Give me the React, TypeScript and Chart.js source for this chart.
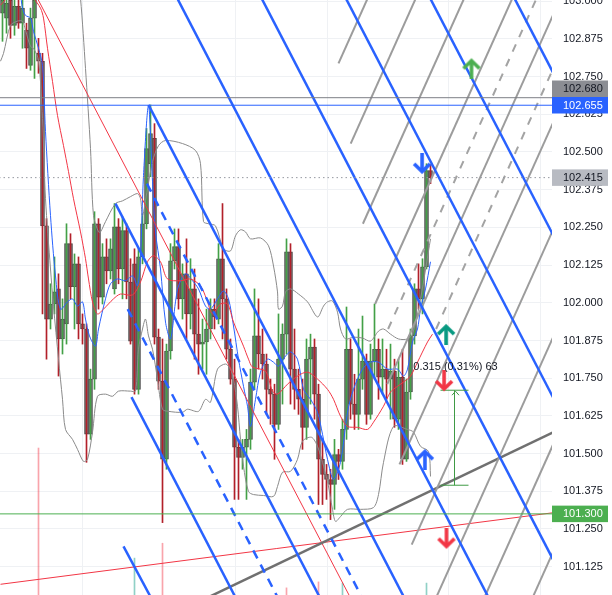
import React, { useEffect, useRef } from "react";
import { Chart, registerables } from "chart.js";

Chart.register(...registerables);

// ---------------- data ----------------
const openP = [
  102.960, 102.944, 103.003, 102.920, 102.983, 102.927, 102.904, 102.787, 102.944, 102.827,
  102.801, 102.255, 101.946, 101.996, 102.046, 101.880, 101.930, 102.196, 102.053, 102.129,
  101.930, 101.913, 101.564, 101.747, 102.262, 102.019, 102.152, 102.106, 102.046, 102.252,
  102.112, 102.239, 102.069, 102.129, 101.713, 102.152, 102.262, 102.461, 102.545, 101.886,
  101.740, 101.481, 101.840, 102.139, 102.186, 102.013, 102.096, 101.963, 102.046, 101.896,
  101.863, 101.870, 101.913, 101.979, 101.946, 102.146, 102.013, 101.846, 101.747, 101.521,
  101.487, 101.521, 101.547, 101.737, 101.890, 101.830, 101.797, 101.713, 101.697, 101.597,
  101.813, 101.896, 102.169, 101.780, 101.713, 101.680, 101.587, 101.813, 101.853, 101.697,
  101.481, 101.431, 101.414, 101.398, 101.497, 101.474, 101.580, 101.846, 101.664, 101.630,
  101.747, 101.807, 101.630, 101.807, 101.846, 101.753, 101.780, 101.747, 101.773, 101.614,
  101.753, 101.481, 101.704, 101.890, 102.046, 102.013, 102.119, 102.438,
];
const closeP = [
  103.003, 102.993, 102.920, 102.983, 102.927, 102.977, 102.844, 102.944, 103.003, 102.801,
  102.255, 101.946, 101.996, 102.036, 101.880, 101.946, 102.196, 102.053, 102.129, 101.930,
  101.913, 101.564, 101.747, 102.262, 102.019, 102.152, 102.106, 102.179, 102.252, 102.112,
  102.239, 102.069, 101.873, 101.713, 102.152, 102.262, 102.511, 102.561, 101.886, 101.740,
  101.481, 101.840, 102.139, 102.186, 102.013, 102.096, 101.963, 102.046, 101.896, 101.863,
  101.870, 101.913, 101.979, 101.953, 102.146, 102.013, 101.846, 101.747, 101.521, 101.487,
  101.521, 101.547, 101.737, 101.890, 101.830, 101.797, 101.713, 101.697, 101.597, 101.813,
  101.896, 102.169, 101.780, 101.713, 101.680, 101.587, 101.813, 101.853, 101.697, 101.481,
  101.431, 101.414, 101.398, 101.497, 101.474, 101.580, 101.846, 101.664, 101.630, 101.747,
  101.807, 101.630, 101.807, 101.846, 101.753, 101.780, 101.747, 101.773, 101.614, 101.753,
  101.481, 101.704, 101.890, 102.046, 102.013, 102.119, 102.438, 102.415,
];
const highP = [
  103.037, 103.027, 103.037, 103.010, 103.027, 103.010, 102.927, 102.977, 103.043, 102.877,
  102.827, 102.279, 102.063, 102.152, 102.096, 102.013, 102.262, 102.229, 102.162, 102.152,
  101.963, 101.930, 101.780, 102.302, 102.279, 102.196, 102.212, 102.212, 102.329, 102.279,
  102.285, 102.262, 102.146, 102.179, 102.179, 102.295, 102.578, 102.656, 102.594, 101.913,
  101.880, 101.863, 102.196, 102.245, 102.245, 102.129, 102.212, 102.146, 102.112, 102.013,
  101.946, 101.979, 102.013, 102.013, 102.196, 102.329, 102.046, 101.880, 101.813, 101.547,
  101.547, 101.580, 101.780, 102.046, 102.013, 101.913, 101.830, 101.747, 101.730, 101.963,
  101.930, 102.212, 102.196, 101.913, 101.780, 101.747, 101.880, 101.896, 101.880, 101.730,
  101.547, 101.464, 101.448, 101.547, 101.514, 101.614, 101.986, 101.880, 101.763, 101.913,
  101.956, 101.830, 101.863, 101.996, 101.880, 101.880, 101.846, 101.863, 101.813, 101.813,
  101.846, 101.747, 101.913, 102.063, 102.129, 102.146, 102.461, 102.458,
];
const lowP = [
  102.867, 102.894, 102.877, 102.887, 102.910, 102.844, 102.777, 102.771, 102.744, 102.761,
  101.963, 101.813, 101.913, 101.963, 101.757, 101.830, 101.863, 102.013, 101.913, 101.880,
  101.863, 101.471, 101.547, 101.713, 101.979, 101.996, 102.063, 102.079, 102.029, 102.063,
  102.013, 102.013, 101.863, 101.697, 101.697, 102.129, 102.245, 102.418, 101.863, 101.713,
  101.271, 101.448, 101.813, 102.112, 101.979, 101.946, 101.880, 101.913, 101.813, 101.763,
  101.780, 101.763, 101.880, 101.913, 101.930, 101.880, 101.813, 101.730, 101.348, 101.348,
  101.448, 101.348, 101.514, 101.713, 101.780, 101.747, 101.630, 101.597, 101.481, 101.580,
  101.664, 101.830, 101.664, 101.647, 101.630, 101.514, 101.547, 101.664, 101.614, 101.331,
  101.331, 101.348, 101.281, 101.315, 101.414, 101.448, 101.547, 101.614, 101.580, 101.580,
  101.713, 101.597, 101.614, 101.747, 101.680, 101.697, 101.680, 101.614, 101.587, 101.580,
  101.464, 101.474, 101.680, 101.863, 101.979, 101.963, 102.112, 102.395,
];

// indicator curves as [bar index, price]
const bbUpper = [
  [18.5, 103.11], [19.5, 103.01], [20.75, 102.777], [22, 102.511], [22.75, 102.289], [24, 102.235],
  [24.5, 102.235], [25.75, 102.269], [28.25, 102.329], [30, 102.338], [32, 102.352], [33.75, 102.362],
  [34.5, 102.345], [35, 102.289], [36.25, 102.378], [37.5, 102.468], [39, 102.521], [40.75, 102.538],
  [45, 102.528], [48.25, 102.505], [49.5, 102.461], [50.25, 102.269], [51.5, 102.262], [53.25, 102.255],
  [55.25, 102.179], [57, 102.172], [58.25, 102.222], [59.5, 102.242], [60.75, 102.235], [62, 102.212],
  [64.5, 102.215], [66.5, 102.189], [67.75, 102.122], [68.75, 102.036], [69, 101.979], [70, 101.989],
  [70.75, 102.036], [72, 102.046], [74, 102.029], [76.25, 102.003], [78.75, 101.953], [80.25, 101.989],
  [81.25, 102.003], [82.5, 102.006], [83.75, 101.969], [84.5, 101.913], [85.75, 101.88], [87.75, 101.886],
  [90, 101.883], [92, 101.873], [94, 101.906], [95.25, 101.913], [97, 101.896], [99, 101.88],
  [101.25, 101.88], [102.5, 101.896], [104.5, 102.013], [107, 102.212],
];
const bbLower = [
  [-0.5, 102.801], [0.25, 102.827], [2, 102.92], [3.75, 102.934], [5, 102.934], [5.75, 102.904],
  [7, 102.85], [7.75, 102.844], [9, 102.804], [10, 102.611], [10.75, 102.345], [12, 102.112],
  [12.75, 101.989], [14, 101.813], [15, 101.68], [15.75, 101.58], [17.5, 101.547], [18.75, 101.514],
  [20.25, 101.474], [21.25, 101.481], [22.5, 101.571], [23.75, 101.69], [25.75, 101.697], [27.5, 101.69],
  [29, 101.707], [32, 101.707], [33.25, 101.707], [34, 101.846], [35, 101.913], [35.75, 101.946],
  [36.5, 101.89], [37.5, 101.846], [38.75, 101.747], [40, 101.647], [41.5, 101.64], [45, 101.637],
  [46.25, 101.647], [49, 101.64], [50.75, 101.68], [52, 101.67], [53.75, 101.78], [55.75, 101.797],
  [57, 101.78], [57.75, 101.747], [58.75, 101.657], [59.5, 101.547], [60.25, 101.458], [61.5, 101.374],
  [62.75, 101.364], [65.25, 101.361], [67.75, 101.358], [68.75, 101.391], [70, 101.438], [72, 101.441],
  [73.75, 101.481], [75, 101.541], [77.25, 101.554], [78.75, 101.524], [80, 101.471], [81.25, 101.408],
  [82.5, 101.315], [83.25, 101.275], [84.5, 101.291], [86.25, 101.315], [89.5, 101.315], [92.75, 101.321],
  [94, 101.364], [95.25, 101.471], [97.75, 101.59], [101.25, 101.58], [102.75, 101.571], [104.5, 101.524],
  [106.5, 101.507], [107, 101.424],
];
const maFast = [
  [4.5, 103.027], [5, 102.977], [5.75, 102.953], [7, 102.944], [7.75, 102.9], [9, 102.844], [10, 102.787],
  [10.75, 102.568], [12, 102.289], [13.25, 102.089], [14.5, 101.979], [16.25, 102.003], [17.5, 102.013],
  [18.75, 101.989], [20, 102.003], [20.75, 101.946], [21.75, 101.89], [23.25, 101.856], [24, 101.913],
  [25.75, 102.013], [27, 102.063], [28.75, 102.079], [30.75, 102.073], [32.5, 102.089], [33.75, 102.056],
  [34.5, 102.156], [35.25, 102.422], [36.5, 102.654], [37.5, 102.402], [38.25, 102.235], [39.5, 102.112],
  [40.75, 101.936], [42, 101.88], [43.25, 102.003], [44, 102.056], [45.75, 102.096], [47.5, 102.073],
  [49, 102.046], [50.75, 101.989], [52, 101.979], [53.75, 102.013], [55.25, 102.039], [56.5, 102.013],
  [57.75, 101.923], [59, 101.813], [60.25, 101.723], [61.25, 101.657], [62, 101.59], [63.25, 101.68],
  [64.5, 101.77], [66.25, 101.813], [67.75, 101.803], [69, 101.79], [70.75, 101.823], [72, 101.837],
  [73.75, 101.813], [75.25, 101.713], [77, 101.68], [78.75, 101.637], [80, 101.564], [81.25, 101.481],
  [82.75, 101.414], [84.5, 101.471], [86.25, 101.637], [87.75, 101.713], [90, 101.78], [92, 101.803],
  [94, 101.803], [96.25, 101.78], [98.75, 101.78], [100.25, 101.757], [101.25, 101.78], [102.5, 101.87],
  [103.75, 101.913], [104.5, 101.979], [105.75, 102.046], [107, 102.136],
];
const maSlow = [
  [-0.5, 102.987], [2, 103.02], [5.75, 103.037], [7.75, 103.01], [9.5, 102.977], [10.25, 102.944],
  [11.25, 102.844], [12.5, 102.734], [13.75, 102.621], [15.25, 102.521], [16.5, 102.435], [17.75, 102.345],
  [19.5, 102.235], [20.75, 102.146], [21.5, 102.079], [22.5, 102.003], [23.75, 101.963], [25.25, 101.979],
  [27.75, 102.013], [29.5, 102.029], [32.5, 102.026], [34.5, 102.069], [36.25, 102.136], [37.75, 102.156],
  [39.5, 102.136], [41.25, 102.079], [44.5, 102.073], [47, 102.079], [49.5, 102.056], [51, 102.013],
  [52.5, 101.963], [54.5, 101.996], [56.25, 101.996], [57.75, 101.936], [60.25, 101.856], [61.5, 101.813],
  [62.5, 101.787], [65.75, 101.773], [67.5, 101.707], [68.75, 101.697], [71.25, 101.73], [73.75, 101.757],
  [76.25, 101.77], [78.75, 101.747], [81.25, 101.713], [82.75, 101.68], [84.5, 101.624], [86.25, 101.59],
  [88.75, 101.587], [91.25, 101.58], [92.75, 101.604], [95.25, 101.657], [97, 101.704], [98.75, 101.723],
  [100.25, 101.737], [102, 101.757], [103.75, 101.803], [106.25, 101.87], [107.5, 101.896],
];

// volume (only the visible bars)
const volX = [9, 33, 40, 71, 79, 85, 106];
const volV = [24.7, 6.2, 8.7, 1.2, 2.2, 2.0, 2.0];
const volUp = [false, true, false, false, false, true, true];

// axis
const yTicks = [101.125, 101.25, 101.375, 101.5, 101.625, 101.75, 101.875, 102, 102.125, 102.25, 102.375, 102.5, 102.625, 102.75, 102.875, 103];
const gridX = [19.875, 58.125, 81.125, 111.375, 134.375];

// horizontal price levels
const levelPrices = [102.68, 102.655, 102.415, 101.3];

// drawings: [startIndex, startPrice, endIndex, endPrice]
const channelLines = [
  [30.25, 101.192, 40.08, 100.949],
  [32.25, 101.687, 61.15, 100.949],
  [28.25, 102.329, 82.23, 100.949],
  [36.5, 102.656, 103.3, 100.949],
  [41.05, 103.077, 124.4, 100.949],
  [62.13, 103.077, 145.45, 100.949],
  [83.2, 103.077, 166.5, 100.949],
  [104.28, 103.077, 187.6, 100.949],
  [125.35, 103.077, 208.7, 100.949],
];
const channelMedians = [
  [31.3, 101.979, 71.7, 100.949],
  [36.1, 102.395, 92.76, 100.949],
];
const fanLines = [
  [84.0, 102.794, 93.57, 103.077],
  [87.05, 102.528, 105.6, 103.077],
  [90.1, 102.262, 117.7, 103.077],
  [93.15, 101.996, 129.75, 103.077],
  [96.2, 101.73, 141.8, 103.077],
  [99.25, 101.464, 153.9, 103.077],
  [102.3, 101.198, 165.9, 103.077],
  [105.35, 100.932, 177.98, 103.077],
  [108.4, 100.666, 190.05, 103.077],
  [111.45, 100.4, 202.1, 103.077],
];
const fanMedians = [
  [96.4, 101.913, 135.8, 103.077],
  [108.4, 101.913, 147.85, 103.077],
];
const trendGray = [39.7, 100.949, 139.5, 101.582];
const trendRedLow = [-0.5, 101.0665, 139.5, 101.307];
const trendRedDiag = [6.08, 103.077, 89.85, 100.949];

// price range measurement
const measureStart = 109.5;
const measureEnd = 116.5;
const measureFrom = 101.395;
const measureTo = 101.71;
const measureBars = 63;

// arrow marks
const arrowX = [117.25, 104.9, 110.9, 110.4, 105.6, 111.0];
const arrowP = [102.777, 102.461, 101.896, 101.74, 101.481, 101.218];
const arrowUp = [true, false, true, false, true, false];

// ---------------- styles ----------------
const BLUE = "#2962ff";
const RED = "#f23645";
const arrowColors = ["#4caf50", BLUE, "#089981", RED, BLUE, RED];
const levelStyles = [
  { line: "#7d7f86", dash: [], box: "#8b8d93", text: "#131722" },
  { line: BLUE, dash: [], box: BLUE, text: "#ffffff" },
  { line: "#9598a1", dash: [1.5, 3], box: "#b8bbc2", text: "#131722" },
  { line: "#4caf50", dash: [], box: "#4caf50", text: "#ffffff" },
];
const FONT = '"Liberation Sans", Arial, sans-serif';

function makeArrow(color: string, up: boolean) {
  const W = 20;
  const H = 22;
  const c = document.createElement("canvas");
  c.width = W;
  c.height = H;
  const g = c.getContext("2d") as CanvasRenderingContext2D;
  if (!up) {
    g.translate(0, H);
    g.scale(1, -1);
  }
  g.strokeStyle = color;
  g.lineWidth = 3.6;
  g.lineJoin = "miter";
  g.beginPath();
  g.moveTo(10, 4);
  g.lineTo(10, 22);
  g.stroke();
  g.beginPath();
  g.moveTo(2, 11);
  g.lineTo(10, 3.2);
  g.lineTo(18, 11);
  g.stroke();
  return c;
}

export default function App() {
  const ref = useRef<HTMLCanvasElement>(null);

  useEffect(() => {
    const canvas = ref.current as HTMLCanvasElement;
    const seg = (s: number[]) => [
      { x: s[0], y: s[1] },
      { x: s[2], y: s[3] },
    ];
    const line = (data: any[], color: string, width: number, dash: number[], order: number, tension = 0) => ({
      type: "line",
      data,
      borderColor: color,
      borderWidth: width,
      borderDash: dash,
      pointRadius: 0,
      fill: false,
      tension,
      order,
    });
    const ds: any[] = [];

    ds.push({
      type: "bar",
      yAxisID: "yv",
      data: volX.map((x, k) => ({ x, y: volV[k] })),
      backgroundColor: volUp.map((u) => (u ? "rgba(8,153,129,0.45)" : "rgba(242,54,69,0.45)")),
      barThickness: 1,
      grouped: false,
      order: 12,
    });
    ds.push({
      type: "bar",
      data: openP.map((o, i) => ({ x: i, y: [Math.min(o, closeP[i]), Math.max(o, closeP[i])] })),
      backgroundColor: "#707070",
      borderColor: "#474747",
      borderWidth: 1,
      borderSkipped: false,
      barThickness: 4,
      grouped: false,
      order: 11,
    });
    ds.push({
      type: "bar",
      data: openP.map((o, i) => ({ x: i, y: [lowP[i], highP[i]] })),
      backgroundColor: openP.map((o, i) => (closeP[i] >= o ? "#43a047" : "#b2202a")),
      barThickness: 1,
      grouped: false,
      order: 10,
    });

    const knots = (k: number[][]) => k.map((p) => ({ x: p[0], y: p[1] }));
    ds.push(line(knots(bbUpper), "#8a8a8a", 1, [], 9, 0.3));
    ds.push(line(knots(bbLower), "#8a8a8a", 1, [], 9, 0.3));
    ds.push(line(knots(maSlow), RED, 1, [], 8, 0.3));
    ds.push(line(knots(maFast), BLUE, 1, [], 8, 0.3));

    ds.push(line(seg(trendRedLow), RED, 1, [], 6));
    ds.push(line(seg(trendRedDiag), RED, 1, [], 6));
    fanLines.forEach((s) => ds.push(line(seg(s), "#9c9c9c", 2, [], 5)));
    fanMedians.forEach((s) => ds.push(line(seg(s), "#a3a3a3", 2, [8, 8], 5)));
    ds.push(line(seg(trendGray), "#707070", 2.5, [], 5));
    channelLines.forEach((s) => ds.push(line(seg(s), BLUE, 2.5, [], 4)));
    channelMedians.forEach((s) => ds.push(line(seg(s), BLUE, 2.5, [9, 7], 4)));

    levelPrices.forEach((p, k) =>
      ds.push(line([{ x: -2, y: p }, { x: 140, y: p }], levelStyles[k].line, 1, levelStyles[k].dash, 3))
    );

    const mMid = (measureStart + measureEnd) / 2;
    const MG = "#3f9a45";
    ds.push(line([{ x: measureStart, y: measureTo }, { x: measureEnd, y: measureTo }], MG, 1, [], 2));
    ds.push(line([{ x: measureStart, y: measureFrom }, { x: measureEnd, y: measureFrom }], MG, 1, [], 2));
    ds.push(line([{ x: mMid, y: measureFrom }, { x: mMid, y: measureTo }], MG, 1, [], 2));

    const imgs = arrowX.map((_, k) => makeArrow(arrowColors[k], arrowUp[k]));
    ds.push({
      type: "line",
      showLine: false,
      data: arrowX.map((x, k) => ({ x, y: arrowP[k] })),
      pointStyle: imgs,
      pointRadius: 6,
      order: 0,
    });

    const overlay = {
      id: "overlay",
      afterDraw(chart: any) {
        const { ctx, chartArea, scales } = chart;
        const ys = scales.y;
        const xs = scales.x;
        ctx.save();
        // measurement arrow head + label
        const mx = Math.round(xs.getPixelForValue(mMid)) + 0.5;
        const yTop = ys.getPixelForValue(measureTo);
        ctx.strokeStyle = MG;
        ctx.lineWidth = 1;
        ctx.beginPath();
        ctx.moveTo(mx - 3.5, yTop + 5);
        ctx.lineTo(mx, yTop + 1);
        ctx.lineTo(mx + 3.5, yTop + 5);
        ctx.stroke();
        const diff = measureTo - measureFrom;
        const pct = (diff / measureFrom) * 100;
        const label = `${diff.toFixed(3)} (${pct.toFixed(2)}%) ${measureBars}`;
        ctx.font = `11px ${FONT}`;
        ctx.fillStyle = "#131722";
        ctx.textAlign = "center";
        ctx.textBaseline = "middle";
        ctx.fillText(label, mx, yTop - 23);

        // price label boxes
        const h = 16.5;
        const boxes = levelPrices
          .map((p, k) => ({ p, k, y: ys.getPixelForValue(p) }))
          .sort((a, b) => b.y - a.y);
        let prevTop = Infinity;
        boxes.forEach((b) => {
          let cy = b.y;
          if (cy + h / 2 > prevTop) cy = prevTop - h / 2;
          prevTop = cy - h / 2;
          const st = levelStyles[b.k];
          ctx.fillStyle = st.box;
          ctx.fillRect(chartArea.right, cy - h / 2, 56, h);
          ctx.fillStyle = st.text;
          ctx.textAlign = "left";
          ctx.textBaseline = "middle";
          ctx.font = `11px ${FONT}`;
          ctx.fillText(b.p.toFixed(3), chartArea.right + 11, cy + 0.5);
        });
        ctx.restore();
      },
    };

    const chart = new Chart(canvas, {
      type: "bar",
      data: { datasets: ds },
      options: {
        responsive: false,
        animation: false,
        events: [],
        layout: { padding: 0, autoPadding: false },
        plugins: { legend: { display: false }, tooltip: { enabled: false } },
        scales: {
          x: {
            type: "linear",
            min: -0.625,
            max: 137.375,
            offset: false,
            border: { display: false },
            ticks: { display: false },
            grid: { color: "#eff1f4", drawTicks: false, offset: false },
            afterBuildTicks: (s: any) => {
              s.ticks = gridX.map((v) => ({ value: v }));
            },
            afterFit: (s: any) => {
              s.height = 0;
              s.paddingLeft = 0;
              s.paddingRight = 0;
            },
          },
          y: {
            type: "linear",
            position: "right",
            min: 101.031,
            max: 103.004,
            border: { display: false },
            grid: { color: "#eff1f4", drawTicks: false },
            ticks: {
              padding: 11,
              color: "#131722",
              font: { size: 11, family: FONT },
              callback: (v: any) => Number(v).toFixed(3),
            },
            afterBuildTicks: (s: any) => {
              s.ticks = yTicks.map((v) => ({ value: v }));
            },
            afterFit: (s: any) => {
              s.width = 60;
              s.paddingTop = 0;
              s.paddingBottom = 0;
            },
          },
          yv: { type: "linear", display: false, min: 0, max: 100 },
        },
      } as any,
      plugins: [overlay as any],
    } as any);

    return () => chart.destroy();
  }, []);

  return (
    <div style={{ position: "absolute", left: 0, top: 0, width: 612, height: 595, background: "#ffffff" }}>
      <canvas ref={ref} width={612} height={595} style={{ display: "block", width: 612, height: 595 }} />
    </div>
  );
}
